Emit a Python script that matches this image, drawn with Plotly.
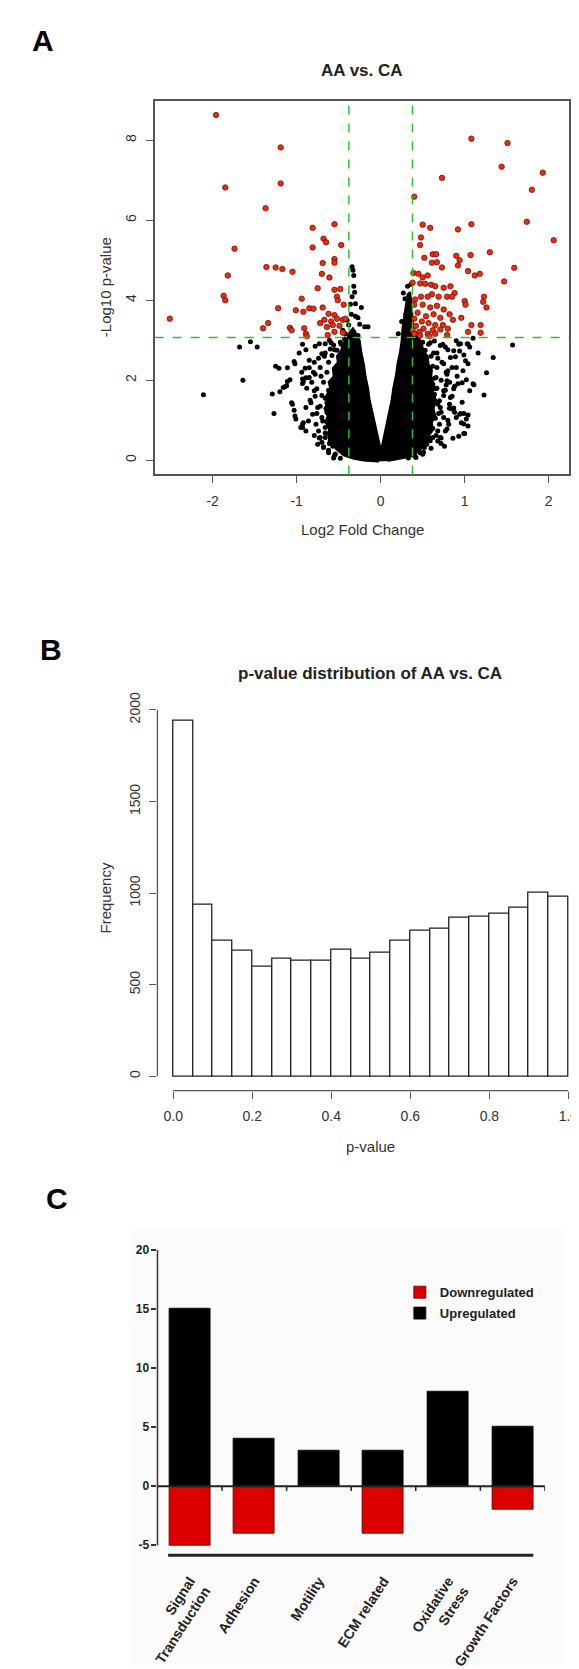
import plotly.graph_objects as go

# page is offset by the browser's default 8px body margin
OFF = 8
W, H = 579 - OFF, 1669 - OFF
FONT = "Liberation Sans, Arial, Helvetica, sans-serif"

# ---------------- Panel A data (volcano) ----------------
FC_CUT = 0.3785
P_CUT = 3.07

red_x = [-1.96, -1.19, -1.19, -1.85, -1.37, -1.74, -1.82, -1.87, -1.85, -2.51,
         -1.36, -1.25, -1.17, -1.05, -1.40, -1.34, -1.22, -1.08, -1.06, -0.94,
         -1.01, -0.92, -0.91, -0.89, -0.85, -0.80, -0.81, -0.81, -0.68, -0.65,
         -0.55, -0.47, -0.69, -0.55, -0.55, -0.70, -0.61, -0.75, -0.55, -0.48,
         -0.52, -0.51, -0.44, -0.69, -0.62, -0.55, -0.52, -0.67, -0.59, -0.45,
         -0.42, -0.64, -0.57, -0.49, -0.63, -0.55, -0.45, -0.72, -0.88,
         1.08, 1.51, 1.44, 1.93, 0.73, 1.80, 0.40, 1.74, 2.06, 0.50,
         0.59, 0.92, 1.08, 0.48, 0.47, 1.30, 1.07, 0.90, 0.52, 0.62,
         0.66, 0.61, 0.67, 0.73, 0.94, 0.92, 1.47, 1.59, 1.04, 1.12,
         1.18, 0.39, 0.45, 0.50, 0.56, 0.38, 0.47, 0.53, 0.60, 0.65,
         0.75, 0.83, 0.88, 0.85, 0.79, 1.23, 1.22, 1.26, 1.00, 1.01,
         0.69, 0.61, 0.56, 0.48, 0.41, 0.40, 0.50, 0.59, 0.67, 0.75,
         0.82, 0.44, 0.54, 0.63, 0.71, 0.96, 0.86, 0.40, 0.49, 0.57,
         0.65, 0.74, 0.42, 0.51, 0.62, 0.71, 0.80, 0.38, 0.46, 0.56,
         0.65, 0.79, 1.04, 1.08, 1.19, 1.19, 0.40, 0.47, 0.58]
red_y = [8.63, 7.82, 6.92, 6.82, 6.30, 5.29, 4.62, 4.11, 4.00, 3.54,
         4.83, 4.82, 4.78, 4.71, 3.30, 3.43, 3.80, 3.31, 3.25, 4.04,
         3.75, 3.71, 3.30, 3.16, 3.80, 3.79, 5.81, 5.32, 5.54, 5.45,
         5.90, 5.38, 4.93, 5.03, 4.94, 4.66, 4.57, 4.30, 4.26, 4.28,
         4.09, 4.00, 3.89, 3.82, 3.66, 3.63, 3.54, 3.51, 3.47, 3.51,
         3.54, 3.33, 3.38, 3.36, 3.13, 3.21, 3.19, 3.43, 3.10,
         8.04, 7.93, 7.34, 7.19, 7.06, 6.76, 6.59, 5.96, 5.50, 5.89,
         5.81, 5.77, 5.90, 5.57, 5.38, 5.20, 5.13, 5.11, 5.06, 5.15,
         5.15, 4.94, 4.95, 4.82, 5.00, 4.87, 4.47, 4.81, 4.73, 4.62,
         4.66, 4.68, 4.66, 4.57, 4.62, 4.44, 4.42, 4.41, 4.39, 4.35,
         4.31, 4.35, 4.18, 4.09, 4.09, 4.09, 3.96, 3.82, 3.98, 3.89,
         4.09, 4.15, 4.09, 4.09, 4.02, 3.89, 3.89, 3.82, 3.86, 3.77,
         3.65, 3.69, 3.60, 3.65, 3.56, 3.56, 3.51, 3.54, 3.47, 3.43,
         3.38, 3.38, 3.36, 3.29, 3.25, 3.27, 3.29, 3.25, 3.21, 3.16,
         3.16, 3.13, 3.21, 3.38, 3.38, 3.19, 3.16, 3.12, 3.10]

black_x = [-2.11, -1.64, -1.68, -1.55, -1.47, -1.25, -1.21, -1.29, -1.27, -1.14,
           -1.11, -1.02, -1.06, -0.93, -0.95, -0.92, -0.89, -1.02, -0.97, -0.89,
           -0.85, -0.93, -0.78, -0.68, -0.66, -0.83, -0.76, -0.78, -0.72, -0.66,
           -0.76, -0.73, -0.61, -0.59, -0.55, -0.54, -0.64, -0.70, -0.59, -0.53,
           -0.50, -0.47, -0.43, -0.55, -0.59, -0.51, -0.45, -0.34, -0.33, -0.32,
           -0.32, -0.34, -0.30, -0.23, -0.35, -0.38, -0.27, -0.19, -0.42, -0.32,
           -0.27, -1.11, -1.03, -1.08, -1.16, -1.12, -1.20, -1.05, -1.03, -1.01,
           -0.92, -0.93, -0.89, -0.93, -0.93, -0.85, -0.79, -0.70, -0.73, -0.66,
           -0.60, -0.79, -0.75, -0.70, -0.68, -0.66, -0.62, -0.56, -0.58, -0.85,
           -0.94, -0.89, -0.77, -0.74, -0.72, -0.15,
           -0.62, -0.58, -0.64, -0.68, -0.62, -0.66, -0.72, -0.64, -0.69, -0.62,
           -0.66, -0.60, -0.57, -0.52, -0.48, -0.56, -0.74, -0.80, -0.82, -0.78,
           -0.84, -0.81, -0.86, -0.79, -0.70, -0.75, -0.88, -0.90, -0.71, -0.67,
           -0.61, -0.45, -0.40, -0.36, -0.31, -0.30, -0.25, -0.62, -0.55, -0.48,
           0.32, 0.27, 0.29, 0.34, 0.30, 0.25, 0.29, 0.21, 0.27, 1.57,
           1.34, 1.26, 1.16, 1.10, 1.23, 1.10, 0.97, 0.99, 1.04, 0.99,
           0.99, 0.95, 0.87, 0.82, 1.04, 0.99, 0.93, 1.04, 0.89, 0.85,
           0.78, 0.75, 0.72, 0.59, 0.68, 0.80, 0.87, 0.80, 0.74, 0.79,
           0.69, 0.63, 0.51, 0.46, 0.65, 0.67, 0.63, 0.59, 0.55, 0.51,
           0.54, 0.46, 0.48, 0.38, 1.11, 1.06, 1.02, 1.06, 1.03, 0.95,
           1.01, 0.98, 0.90, 0.92, 0.83, 0.85, 0.90, 0.94, 1.02, 1.04,
           1.00, 0.96, 0.81, 0.77, 0.71, 0.68, 0.62, 0.75, 0.71, 0.70,
           0.75, 0.79, 0.80, 0.75, 0.83, 0.87, 0.77, 0.71, 0.67, 0.66,
           0.64, 0.62, 0.56, 0.52, 0.47, 0.41, 0.33, 0.90, 0.94,
           0.62, 0.60, 0.64, 0.67, 0.63, 0.68, 0.72, 0.65, 0.70, 0.62,
           0.66, 0.58, 0.55, 0.53, 0.50, 0.57, 0.73, 0.78, 0.82, 0.77,
           0.85, 0.82, 0.88, 0.79, 0.72, 0.76, 0.88, 0.91, 0.72, 0.68,
           0.64, 0.45, 0.36, 0.33, 0.60, 0.50, 0.42, 0.86, 0.93, 0.97]
black_y = [1.64, 2.00, 2.83, 2.96, 2.83, 2.35, 2.30, 1.66, 1.17, 1.84,
           1.97, 1.11, 1.44, 0.91, 0.82, 1.97, 2.06, 2.41, 2.68, 2.76,
           2.50, 2.90, 2.85, 0.34, 0.82, 1.44, 1.79, 2.15, 2.32, 2.68,
           1.17, 0.56, 0.42, 2.94, 2.76, 0.16, 1.44, 1.62, 1.97, 2.32,
           2.59, 2.90, 3.03, 1.00, 0.73, 0.56, 0.34, 4.84, 4.75, 4.62,
           4.35, 4.09, 3.91, 3.82, 3.65, 3.38, 3.56, 3.34, 3.16, 3.21,
           3.12, 2.31, 2.47, 2.01, 1.82, 1.86, 1.71, 1.40, 1.25, 1.03,
           0.94, 0.82, 0.73, 2.03, 1.92, 2.31, 2.45, 2.66, 2.91, 2.91,
           2.78, 1.74, 1.32, 1.07, 0.32, 0.57, 0.19, 0.06, 0.73, 2.07,
           2.20, 1.32, 0.90, 0.73, 0.57, 3.34,
           2.45, 2.62, 2.20, 1.95, 1.75, 1.55, 1.35, 1.20, 0.98, 0.85,
           0.68, 0.50, 0.35, 2.75, 2.95, 2.88, 2.55, 2.20, 1.95, 1.60,
           1.50, 1.15, 0.98, 0.62, 0.45, 0.40, 1.80, 2.30, 2.10, 2.60,
           3.00, 3.25, 3.50, 3.90, 4.20, 3.60, 3.40, 0.25, 0.12, 0.05,
           4.35, 4.18, 4.04, 3.91, 3.65, 3.47, 3.38, 3.16, 3.07, 2.88,
           2.57, 2.19, 2.68, 3.05, 1.63, 1.91, 1.94, 1.17, 1.13, 0.67,
           0.91, 1.17, 1.31, 1.40, 2.41, 2.63, 2.90, 2.90, 2.59, 2.32,
           1.88, 1.62, 0.56, 0.49, 0.73, 1.00, 1.79, 2.76, 2.90, 2.15,
           1.17, 1.44, 0.20, 0.38, 1.79, 2.32, 2.68, 2.94, 1.00, 1.62,
           2.23, 2.76, 0.69, 0.13, 1.89, 1.74, 2.01, 2.83, 2.91, 2.91,
           2.49, 2.24, 2.32, 1.91, 1.57, 1.28, 1.07, 1.15, 1.03, 0.86,
           0.67, 0.94, 0.90, 0.73, 0.57, 0.48, 0.57, 1.07, 1.32, 1.49,
           1.74, 1.99, 2.24, 2.41, 2.57, 2.74, 2.83, 2.87, 2.68, 2.07,
           1.65, 1.07, 0.73, 0.32, 0.19, 0.11, 0.06, 2.99, 2.73,
           2.35, 2.60, 2.05, 1.80, 1.60, 1.40, 1.20, 1.05, 0.90, 0.80,
           0.62, 0.55, 0.40, 2.75, 2.95, 2.90, 2.45, 2.20, 1.95, 1.75,
           1.60, 1.30, 1.20, 0.78, 0.42, 0.35, 1.85, 2.10, 2.00, 2.55,
           2.98, 3.00, 4.40, 3.00, 0.30, 0.15, 0.07, 0.55, 0.60, 1.45]

# outline of the solid (heavily over-plotted) central cloud of non-significant genes
core_x = [-0.02, -0.18, -0.32, -0.44, -0.53, -0.60, -0.63, -0.61, -0.66, -0.63,
          -0.67, -0.62, -0.65, -0.60, -0.62, -0.56, -0.57, -0.51, -0.52, -0.47,
          -0.45, -0.40, -0.37, -0.33, -0.29,
          -0.25, -0.23, -0.20, -0.18, -0.15, -0.13, -0.10, -0.07, -0.04, -0.02, 0.00,
          0.02, 0.04, 0.07, 0.10, 0.13, 0.15, 0.18, 0.20, 0.23, 0.25,
          0.26, 0.28, 0.30, 0.32, 0.35, 0.37, 0.38, 0.40,
          0.44, 0.49, 0.51, 0.56, 0.57, 0.61, 0.60, 0.64, 0.62, 0.66,
          0.63, 0.65, 0.61, 0.62, 0.57, 0.55, 0.49, 0.42, 0.33, 0.20, 0.08]
core_y = [-0.03, -0.01, 0.04, 0.12, 0.28, 0.48, 0.65, 0.80, 0.95, 1.10,
          1.30, 1.45, 1.60, 1.80, 1.95, 2.10, 2.30, 2.45, 2.60, 2.75,
          2.90, 3.05, 3.20, 3.30, 3.15,
          3.00, 2.70, 2.40, 2.10, 1.80, 1.50, 1.20, 0.90, 0.60, 0.40, 0.28,
          0.40, 0.60, 0.90, 1.20, 1.50, 1.80, 2.10, 2.40, 2.70, 3.00,
          3.30, 3.60, 3.90, 4.15, 4.20, 3.90, 3.50, 3.20,
          3.05, 2.90, 2.75, 2.60, 2.40, 2.25, 2.05, 1.90, 1.70, 1.50,
          1.30, 1.10, 0.95, 0.75, 0.60, 0.45, 0.30, 0.18, 0.08, 0.02, -0.02]

# ---------------- Panel B data (histogram) ----------------
bin_starts = [0.00, 0.05, 0.10, 0.15, 0.20, 0.25, 0.30, 0.35, 0.40, 0.45,
              0.50, 0.55, 0.60, 0.65, 0.70, 0.75, 0.80, 0.85, 0.90, 0.95]
bin_counts = [1942, 935, 742, 685, 598, 642, 633, 633, 690, 642,
              677, 742, 795, 806, 864, 870, 885, 920, 1001, 982]
BIN_W = 0.05

# ---------------- Panel C data (categories) ----------------
categories = ["Signal<br>Transduction", "Adhesion", "Motility", "ECM related",
              "Oxidative<br>Stress", "Growth Factors"]
upregulated = [15, 4, 3, 3, 8, 5]
downregulated = [-5, -4, 0, -4, 0, -2]


def px_x(p):
    return (p - OFF) / W


def px_y(p):
    return 1 - (p - OFF) / H


fig = go.Figure()

# ---- Panel A traces ----
fig.add_trace(go.Scatter(x=core_x, y=core_y, mode="lines", fill="toself",
                         fillcolor="black", line=dict(color="black", width=2),
                         hoverinfo="skip", showlegend=False, xaxis="x", yaxis="y"))
fig.add_trace(go.Scatter(x=black_x, y=black_y, mode="markers",
                         marker=dict(color="black", size=5),
                         showlegend=False, xaxis="x", yaxis="y"))
fig.add_trace(go.Scatter(x=red_x, y=red_y, mode="markers",
                         marker=dict(color="#ee2a10", size=5.5,
                                     line=dict(color="#5a0a00", width=0.7)),
                         showlegend=False, xaxis="x", yaxis="y"))

# ---- Panel B traces ----
fig.add_trace(go.Bar(x=[s + BIN_W / 2 for s in bin_starts], y=bin_counts, width=BIN_W,
                     marker=dict(color="white", line=dict(color="#222", width=1.3)),
                     showlegend=False, xaxis="x2", yaxis="y2"))

# ---- Panel C traces ----
fig.add_trace(go.Bar(x=list(range(len(categories))), y=downregulated, width=0.635,
                     name="Downregulated", legendgroup="d",
                     marker=dict(color="#dd0000", line=dict(color="#550000", width=0.8)),
                     xaxis="x3", yaxis="y3"))
fig.add_trace(go.Bar(x=list(range(len(categories))), y=upregulated, width=0.635,
                     name="Upregulated", legendgroup="u",
                     marker=dict(color="black", line=dict(color="black", width=0.8)),
                     xaxis="x3", yaxis="y3"))

tickfont = dict(family=FONT, size=14, color="#333")

# Panel A axes (page pixel positions)
A_L, A_R, A_T, A_B = 138.5, 568.7, 87.5, 465.4
fig.update_layout(
    xaxis=dict(domain=[px_x(A_L), px_x(A_R)], range=[-2.69, 2.243], anchor="y",
               tickvals=[-2, -1, 0, 1, 2], ticktext=["-2", "-1", "0", "1", "2"],
               ticks="outside", ticklen=7, tickcolor="#555", tickwidth=1.2,
               ticklabelstandoff=6,
               showline=True, mirror=True, linecolor="#555", linewidth=1.5,
               showgrid=False, zeroline=False, tickfont=tickfont, fixedrange=True),
    yaxis=dict(domain=[px_y(A_B), px_y(A_T)], range=[-0.354, 8.99], anchor="x",
               tickvals=[0, 2, 4, 6, 8], tickangle=-90,
               ticks="outside", ticklen=7, tickcolor="#555", tickwidth=1.2,
               ticklabelstandoff=4,
               showline=True, mirror=True, linecolor="#555", linewidth=1.5,
               showgrid=False, zeroline=False, tickfont=tickfont, fixedrange=True),
)

# Panel B axes
B_L, B_T, B_B = 141.3, 699.2, 1088.3
fig.update_layout(
    xaxis2=dict(domain=[px_x(B_L), 1.0], range=[-0.04, 1.0268], anchor="y2",
                tickvals=[0, 0.2, 0.4, 0.6, 0.8, 1.0],
                ticktext=["0.0", "0.2", "0.4", "0.6", "0.8", "1.0"],
                ticks="outside", ticklen=7, tickcolor="#555", tickwidth=1.2,
                ticklabelstandoff=6,
                showline=False, showgrid=False, zeroline=False, tickfont=tickfont),
    yaxis2=dict(domain=[px_y(B_B), px_y(B_T)], range=[-78, 2023], anchor="x2",
                tickvals=[0, 500, 1000, 1500, 2000], tickangle=-90,
                ticks="outside", ticklen=7, tickcolor="#555", tickwidth=1.2,
                ticklabelstandoff=4,
                showline=False, showgrid=False, zeroline=False, tickfont=tickfont),
)

# Panel C axes
C_L, C_R, C_T, C_B = 141.4, 543.6, 1240.0, 1558.0
cat_font = dict(family=FONT, size=14, color="#222", weight="bold")
ytick_font = dict(family=FONT, size=12, color="#222", weight="bold")
fig.update_layout(
    xaxis3=dict(domain=[px_x(C_L), px_x(C_R)], range=[-0.5, 5.5], anchor="y3",
                tickvals=list(range(len(categories))), ticktext=categories,
                tickangle=-57, ticks="", showline=False, showgrid=False,
                zeroline=False, tickfont=cat_font, ticklabelstandoff=14),
    yaxis3=dict(domain=[px_y(C_B), px_y(C_T)], range=[-5.85, 20.8], anchor="x3",
                tickvals=[-5, 0, 5, 10, 15, 20], ticktext=["-5", "0", "5", "10", "15", "20"],
                ticks="outside", ticklen=5, tickcolor="#333", tickwidth=1.5,
                showline=False, showgrid=False, zeroline=False, tickfont=ytick_font),
    barmode="overlay",
    bargap=0,
)

shapes = []
# faint panel-C background
shapes.append(dict(type="rect", xref="paper", yref="paper",
                   x0=px_x(112.6), x1=px_x(563), y0=0, y1=px_y(1227.8),
                   fillcolor="#fbfbfb", line=dict(width=0), layer="below"))
# Panel A threshold lines
for v in (-FC_CUT, FC_CUT):
    shapes.append(dict(type="line", xref="x", yref="y domain", x0=v, x1=v, y0=0, y1=1,
                       line=dict(color="#2fbf2f", width=1.5, dash="dash")))
shapes.append(dict(type="line", xref="x domain", yref="y", x0=0, x1=1, y0=P_CUT, y1=P_CUT,
                   line=dict(color="#2fbf2f", width=1.5, dash="dash")))
# Panel B detached axis lines
shapes.append(dict(type="line", xref="x2", yref="y2 domain", x0=0, x1=1, y0=0, y1=0,
                   line=dict(color="#555", width=1.3)))
shapes.append(dict(type="line", xref="x2 domain", yref="y2", x0=0, x1=0, y0=0, y1=2000,
                   line=dict(color="#555", width=1.3)))
# Panel C axes
shapes.append(dict(type="line", xref="x3 domain", yref="y3", x0=0, x1=0, y0=-5, y1=20,
                   line=dict(color="#333", width=1.5)))
shapes.append(dict(type="line", xref="x3", yref="y3", x0=-0.5, x1=5.5, y0=0, y1=0,
                   line=dict(color="#222", width=2)))
for i in range(len(categories)):
    shapes.append(dict(type="line", xref="x3", yref="y3", x0=i + 0.5, x1=i + 0.5,
                       y0=0, y1=-0.4, line=dict(color="#222", width=1.5)))
shapes.append(dict(type="line", xref="x3", yref="y3 domain", x0=-0.335, x1=5.32,
                   y0=0, y1=0, line=dict(color="#222", width=3)))

annotations = []


def txt(text, x, y, size, bold=False, angle=0, color="#222"):
    annotations.append(dict(text=("<b>%s</b>" % text) if bold else text,
                            x=px_x(x), y=px_y(y), xref="paper", yref="paper",
                            showarrow=False, textangle=angle,
                            xanchor="center", yanchor="middle",
                            font=dict(family=FONT, size=size, color=color)))


txt("A", 23, 27, 30, bold=True, color="black")
txt("B", 31, 642, 30, bold=True, color="black")
txt("C", 37, 1197, 30, bold=True, color="black")
txt("AA vs. CA", 354, 57, 17, bold=True)
txt("Log2 Fold Change", 354, 521, 15, color="#333")
txt("-Log10 p-value", 87, 276, 15, angle=-90, color="#333")
txt("p-value distribution of AA vs. CA", 362, 667, 17, bold=True)
txt("Frequency", 87, 894, 15, angle=-90, color="#333")
txt("p-value", 363, 1145, 15, color="#333")

fig.update_layout(
    width=W, height=H, margin=dict(l=0, r=0, t=0, b=0),
    paper_bgcolor="white", plot_bgcolor="rgba(0,0,0,0)",
    shapes=shapes, annotations=annotations,
    showlegend=True,
    legend=dict(x=px_x(393), y=px_y(1277), xanchor="left", yanchor="top",
                traceorder="grouped", tracegroupgap=1,
                font=dict(family=FONT, size=13, color="#222", weight="bold"),
                bgcolor="rgba(0,0,0,0)", itemclick=False),
    font=dict(family=FONT),
)

fig.write_html("out.html")
